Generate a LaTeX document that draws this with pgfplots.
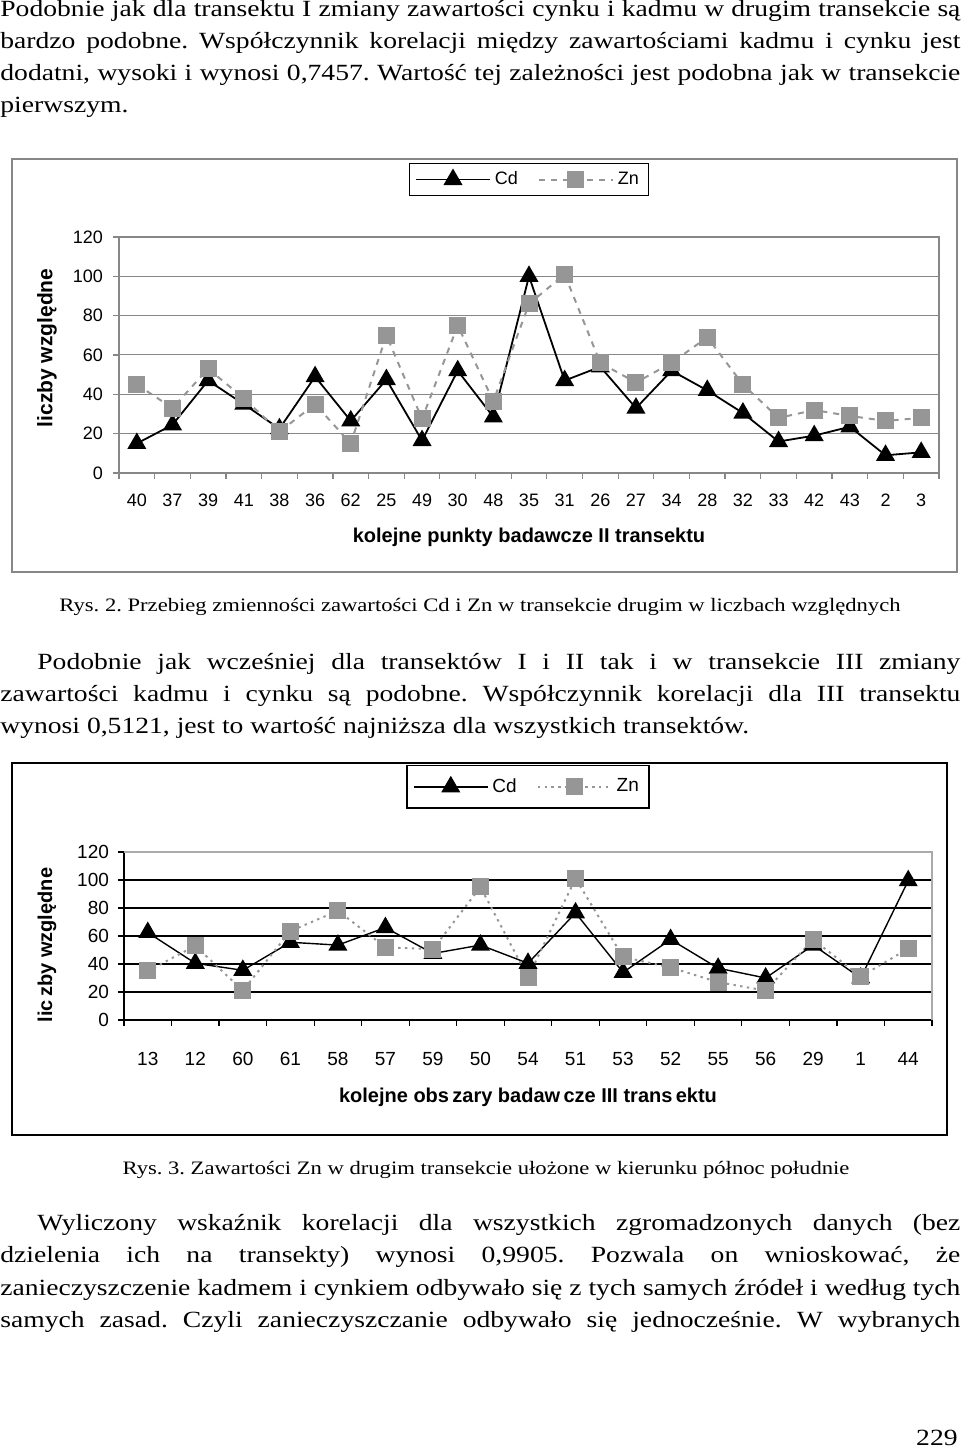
\documentclass[border=0pt]{standalone}
\usepackage{fontspec}
\setmainfont{Liberation Serif}[FakeStretch=1.19]
\setsansfont{Liberation Sans}
\usepackage{pgfplots}
\pgfplotsset{compat=1.18}
\usepackage{pgfplotstable}
\definecolor{zngray}{RGB}{150,150,150}
\definecolor{framegray}{RGB}{135,135,135}
\definecolor{lightframe}{RGB}{170,170,170}

\pgfplotstableread{
i Cd Zn
0 15 45
1 24.5 33
2 47 53
3 35 38
4 22.5 21
5 49 35
6 26.5 15
7 47.5 70
8 16.5 27.5
9 52 75
10 28.5 36.5
11 100 86
12 47 101
13 54 56
14 33 46
15 52 56
16 42 69
17 30.5 45
18 16 28
19 19 32
20 23.5 29
21 9 26.5
22 10.5 28
}\tabA

\pgfplotstableread{
i Cd Zn
0 62.5 35
1 40.5 53
2 35.5 21
3 55.5 63.5
4 53.5 78
5 66 52
6 47.5 50.5
7 53.5 95
8 40.5 30.5
9 76.5 101
10 34 45
11 57.5 37.5
12 37 27
13 30 21
14 53.5 57.5
15 30 31
16 99.5 51
}\tabB

\newcommand\bodyfont{\fontsize{11.6}{14}\selectfont}
\newcommand\capfont{\fontsize{9.5}{11}\selectfont}

\begin{document}
\frenchspacing
\begin{tikzpicture}[x=0.5pt,y=0.5pt]
\path[use as bounding box] (0,0) rectangle (960,1450);

% ---- paragraph 1
\begin{scope}[every node/.style={anchor=base west, inner sep=0pt, font=\bodyfont\frenchspacing}]
\node at (0,1433) {\makebox[480pt][s]{Podobnie jak dla transektu I zmiany zawartości cynku i kadmu w drugim transekcie są}};
\node at (0,1401) {\makebox[480pt][s]{bardzo podobne. Współczynnik korelacji między zawartościami kadmu i cynku jest}};
\node at (0,1369) {\makebox[480pt][s]{dodatni, wysoki i wynosi 0,7457. Wartość tej zależności jest podobna jak w transekcie}};
\node at (0,1337) {pierwszym.};
% ---- paragraph 2
\node at (37,780) {\makebox[461.5pt][s]{Podobnie jak wcześniej dla transektów I i II tak i w transekcie III zmiany}};
\node at (0,748) {\makebox[480pt][s]{zawartości kadmu i cynku są podobne. Współczynnik korelacji dla III transektu}};
\node at (0,716) {wynosi 0,5121, jest to wartość najniższa dla wszystkich transektów.};
% ---- paragraph 3
\node at (37,219) {\makebox[461.5pt][s]{Wyliczony wskaźnik korelacji dla wszystkich zgromadzonych danych (bez}};
\node at (0,187) {\makebox[480pt][s]{dzielenia ich na transekty) wynosi 0,9905. Pozwala on wnioskować, że}};
\node at (0,154) {\makebox[480pt][s]{zanieczyszczenie kadmem i cynkiem odbywało się z tych samych źródeł i według tych}};
\node at (0,122) {\makebox[480pt][s]{samych zasad. Czyli zanieczyszczanie odbywało się jednocześnie. W wybranych}};
\end{scope}
\node[anchor=base east, inner sep=0pt, font=\bodyfont] at (958,4) {229};
% captions
\node[anchor=base, inner sep=0pt, font=\capfont\frenchspacing] at (480,838) {Rys. 2. Przebieg zmienności zawartości Cd i Zn w transekcie drugim w liczbach względnych};
\node[anchor=base, inner sep=0pt, font=\capfont\frenchspacing] at (486,275) {Rys. 3. Zawartości Zn w drugim transekcie ułożone w kierunku północ południe};

% ---- chart 1 frame
\draw[framegray, line width=0.6pt] (12,1291) rectangle (957,878);

\begin{axis}[
  at={(59.5pt,488.5pt)}, anchor=south west,
  scale only axis, width=410pt, height=118pt,
  xmin=-0.5, xmax=22.5, ymin=0, ymax=120,
  xtick={0,...,22},
  xticklabels={40,37,39,41,38,36,62,25,49,30,48,35,31,26,27,34,28,32,33,42,43,2,3},
  minor xtick={-0.5,0.5,...,22.5},
  ytick={0,20,...,120},
  ymajorgrids, grid style={framegray, line width=0.5pt},
  axis line style={draw=framegray, line width=1pt},
  tick align=outside, tick pos=left,
  major x tick style={draw=none},
  tick style={framegray, line width=0.6pt},
  major tick length=3pt, minor tick length=3pt,
  tick label style={font=\sffamily\fontsize{9}{10}\selectfont, text=black},
  /pgf/number format/assume math mode=true,
  xticklabel style={anchor=center, yshift=-10.5pt},
  yticklabel style={anchor=east, xshift=-1.5pt},
  xlabel={kolejne punkty badawcze II transektu},
  ylabel={liczby względne},
  xlabel style={at={(axis description cs:0.5,-0.271)}, anchor=center, font=\sffamily\bfseries\fontsize{10}{12}\selectfont},
  ylabel style={at={(axis description cs:-0.0878,0.53)}, anchor=center, font=\sffamily\bfseries\fontsize{10.5}{12}\selectfont},
  clip=false,
  legend columns=2,
  legend style={at={(0.5,1.174)}, anchor=south, draw=black, font=\sffamily\fontsize{9}{10}\selectfont,
    /tikz/every even column/.append style={column sep=8pt}},
  legend image code/.code={\draw[mark repeat=2,mark phase=2,#1] plot coordinates {(0cm,0cm) (0.65cm,0cm) (1.3cm,0cm)};},
]
\addplot[black, line width=0.9pt, mark=triangle*, mark size=4.6pt, mark options={solid,fill=black,draw=black}] table[x=i,y=Cd]{\tabA};
\addlegendentry{Cd}
\addplot[zngray, line width=1pt, dash pattern=on 3pt off 3pt, mark=square*, mark size=3.75pt, mark options={solid,fill=zngray,draw=zngray}] table[x=i,y=Zn]{\tabA};
\addlegendentry{Zn}
\end{axis}

% ---- chart 2 frame
\draw[black, line width=1pt] (12,687) rectangle (947,315);

\begin{axis}[
  at={(62pt,215pt)}, anchor=south west,
  scale only axis, width=404pt, height=84pt,
  xmin=-0.5, xmax=16.5, ymin=0, ymax=120,
  xtick={0,...,16},
  xticklabels={13,12,60,61,58,57,59,50,54,51,53,52,55,56,29,1,44},
  minor xtick={-0.5,0.5,...,16.5},
  ytick={0,20,...,120},
  ymajorgrids, grid style={black, line width=0.75pt},
  axis x line*=bottom, axis y line*=left,
  axis line style={draw=black, line width=0.8pt},
  tick align=outside,
  major x tick style={draw=none},
  tick style={black, line width=0.6pt},
  major tick length=3pt, minor tick length=3pt,
  tick label style={font=\sffamily\fontsize{9.5}{11}\selectfont, text=black},
  /pgf/number format/assume math mode=true,
  xticklabel style={anchor=center, yshift=-16.5pt},
  yticklabel style={anchor=east, xshift=-1pt},
  xlabel={kolejne obs\,zary badaw\,cze III trans\,ektu},
  ylabel={lic\,zby względne},
  xlabel style={at={(axis description cs:0.5,-0.458)}, anchor=center, font=\sffamily\bfseries\fontsize{10}{12}\selectfont},
  ylabel style={at={(axis description cs:-0.0953,0.446)}, anchor=center, font=\sffamily\bfseries\fontsize{10}{12}\selectfont},
  clip=false,
  after end axis/.code={\draw[lightframe, line width=0.6pt] (rel axis cs:0,1) -- (rel axis cs:1,1) -- (rel axis cs:1,0);},
  legend columns=2,
  legend style={at={(0.5,1.256)}, anchor=south, draw=black, line width=0.8pt, inner ysep=4.5pt, font=\sffamily\fontsize{9.5}{11}\selectfont,
    /tikz/every even column/.append style={column sep=8pt}},
  legend image code/.code={\draw[mark repeat=2,mark phase=2,#1] plot coordinates {(0cm,0cm) (0.65cm,0cm) (1.3cm,0cm)};},
]
\addplot[black, line width=0.7pt, mark=triangle*, mark size=4.8pt, mark options={solid,fill=black,draw=black}] table[x=i,y=Cd]{\tabB};
\addlegendentry{Cd}
\addplot[zngray, line width=1pt, dash pattern=on 1.2pt off 2.2pt, mark=square*, mark size=3.75pt, mark options={solid,fill=zngray,draw=zngray}] table[x=i,y=Zn]{\tabB};
\addlegendentry{Zn}
\end{axis}
\end{tikzpicture}
\end{document}
